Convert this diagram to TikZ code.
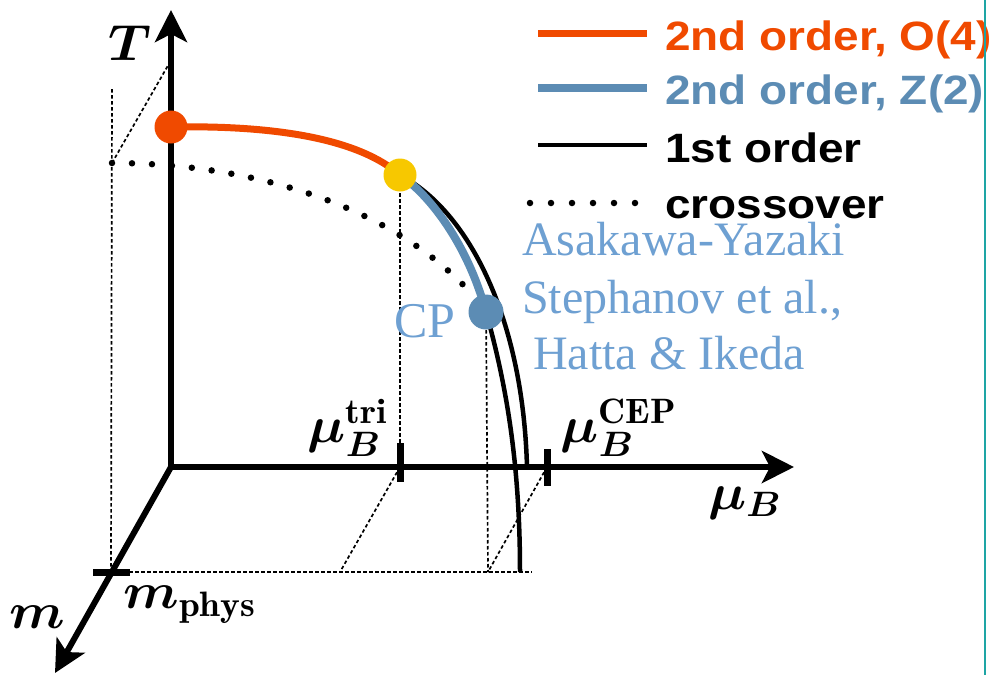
\RequirePackage{fix-cm}
\documentclass[tikz,border=0pt]{standalone}
\usepackage{fontspec}
\usepackage{amsmath}
\usepackage{bm}
\usetikzlibrary{arrows.meta}
\newfontfamily\legfont[FakeStretch=1.12]{Liberation Sans}
\newfontfamily\serfont{Liberation Serif}
\definecolor{oorange}{RGB}{240,74,0}
\definecolor{zblue}{RGB}{92,140,180}
\definecolor{yel}{RGB}{247,200,0}
\definecolor{tblue}{RGB}{110,160,210}
\definecolor{tealc}{RGB}{30,165,165}
\begin{document}
\begin{tikzpicture}[x=1pt,y=-1pt,
 axis/.style={line width=6pt, -{Stealth[length=32pt,width=32pt,inset=8pt]}},
 guide/.style={line width=1.7pt, dash pattern=on 3.5pt off 2.5pt},
 xover/.style={line width=6.5pt, line cap=round, dash pattern=on 0pt off 20pt},
 first/.style={line width=4.5pt},
 o4/.style={line width=7pt, oorange},
 z2/.style={line width=8pt, zblue},
 dotmark/.style={circle, inner sep=0pt, minimum size=34pt},
 tickmark/.style={line width=7pt},
 lab/.style={font=\fontsize{20.74}{24}\selectfont, inner sep=0pt, xscale=2.6, yscale=2.45, transform shape},
 leg/.style={font=\legfont\bfseries\fontsize{41}{46}\selectfont, anchor=base west, inner sep=0pt},
 ref/.style={font=\serfont\fontsize{48}{52}\selectfont, text=tblue, anchor=base west, inner sep=0pt}]
\useasboundingbox (0,0) rectangle (991,675);
% key points
\coordinate (O) at (171,467);
\coordinate (Tend) at (171,10);
\coordinate (Mend) at (794,467);
\coordinate (mend) at (55,673);
\coordinate (Pr) at (171,127);
\coordinate (Py) at (400,175);
\coordinate (Pc) at (486,312);
\coordinate (tri) at (400,467);
\coordinate (cep) at (547,467);
\coordinate (mp) at (111,572);
\coordinate (fo) at (527,467);
\coordinate (fi) at (520,572);
\coordinate (xs) at (112,163);
\coordinate (xe) at (470,292);
\coordinate (gt) at (112,89);
\coordinate (tT) at (170,62);
\coordinate (trib) at (340,572);
\coordinate (cepb) at (488,572);
\coordinate (hend) at (532,572);
% guides
\draw[guide] (gt) -- (mp);
\draw[guide] (xs) -- (tT);
\draw[guide] (mp) -- (hend);
\draw[guide] (tri) -- (trib);
\draw[guide] (cep) -- (cepb);
\draw[guide] (Py) -- (tri);
\draw[guide] (Pc) -- (cepb);
% axes
\draw[axis] (O) -- (Tend);
\draw[axis] (O) -- (Mend);
\draw[axis] (O) -- (mend);
% ticks
\draw[tickmark] (400,443) -- (400,482);
\draw[tickmark] (547,449) -- (547,486);
\draw[tickmark] (93,572) -- (130,572);
% crossover
\draw[xover] (xs) .. controls (250,163) and (390,205) .. (xe);
% transition lines
\draw[first] (Py) .. controls (470,212) and (523,320) .. (fo);
\draw[first] (Pc) .. controls (508,390) and (520,470) .. (fi);
\draw[z2] (Py) .. controls (430,195) and (468,245) .. (Pc);
\draw[o4] (Pr) .. controls (280,125) and (360,140) .. (Py);
% dots
\node[dotmark, fill=oorange, minimum size=33pt] (red) at (Pr) {};
\node[dotmark, fill=yel, minimum size=33pt] (yellow) at (Py) {};
\node[dotmark, fill=zblue, minimum size=35pt] (cp) at (Pc) {};
% axis labels
\node[lab] (Tl) at (130,43) {$\bm{T}$};
\node[lab] (mul) at (745,503) {$\bm{\mu_B}$};
\node[lab] (ml) at (37,617) {$\bm{m}$};
\node[lab] (mphys) at (190,605) {$\bm{m}_{\mathbf{phys}}$};
\node[lab] (tril) at (348,428) {$\bm{\mu}_{\bm{B}}^{\mathbf{tri}}$};
\node[lab] (cepl) at (619,428) {$\bm{\mu}_{\bm{B}}^{\mathbf{CEP}}$};
% references
\node[ref, font=\serfont\fontsize{50}{54}\selectfont] (cpl) at (394,337) {CP};
\node[ref] (r1) at (522,255) {Asakawa-Yazaki};
\node[ref] (r2) at (522,313) {Stephanov et al.,};
\node[ref] (r3) at (533,369) {Hatta \& Ikeda};
% legend
\coordinate (l1a) at (538,33); \coordinate (l1b) at (647,33);
\coordinate (l2a) at (538,88); \coordinate (l2b) at (647,88);
\coordinate (l3a) at (538,145); \coordinate (l3b) at (647,145);
\coordinate (l4a) at (530,203); \coordinate (l4b) at (640,203);
\draw[o4] (l1a) -- (l1b);
\draw[z2] (l2a) -- (l2b);
\draw[first] (l3a) -- (l3b);
\draw[xover, dash pattern=on 0pt off 21pt] (l4a) -- (l4b);
\node[leg, text=oorange] (t1) at (665,50) {2nd order, O(4)};
\node[leg, text=zblue] (t2) at (665,104) {2nd order, Z(2)};
\node[leg] (t3) at (665,162) {1st order};
\node[leg] (t4) at (665,218) {crossover};
% frame line
\draw[tealc, line width=2pt] (985,0) -- (985,675);
\end{tikzpicture}
\end{document}
